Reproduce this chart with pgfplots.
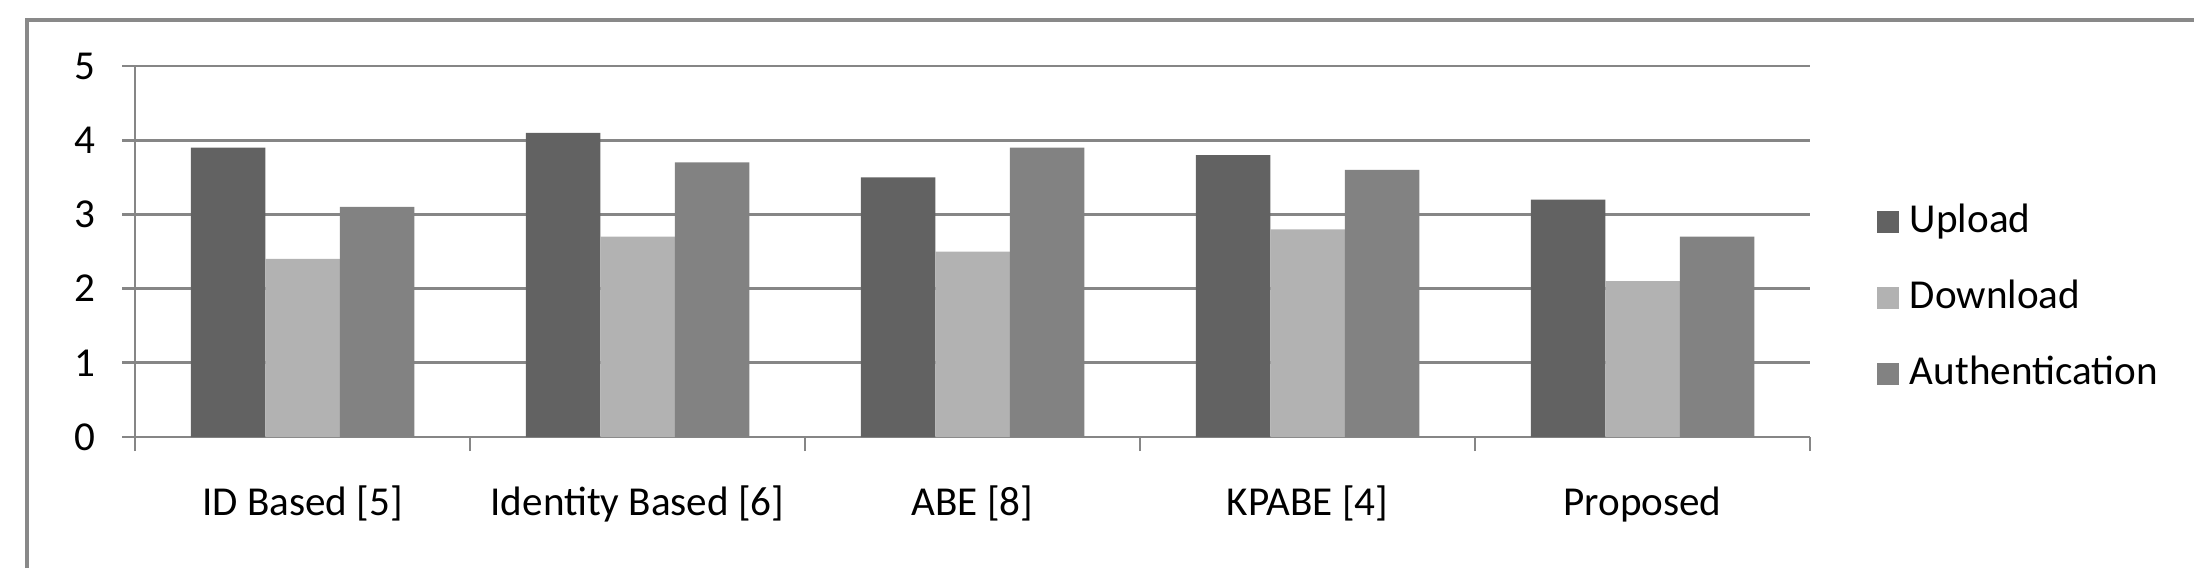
\documentclass[border=0pt]{standalone}
\usepackage{fontspec}
\setmainfont{Carlito}
\usepackage{pgfplots}
\pgfplotsset{compat=1.18}

\definecolor{uploadColor}{RGB}{98,98,98}
\definecolor{downloadColor}{RGB}{178,178,178}
\definecolor{authColor}{RGB}{130,130,130}
\definecolor{gridColor}{RGB}{134,134,134}
\definecolor{frameColor}{RGB}{137,137,137}

\begin{document}
\begin{tikzpicture}
\useasboundingbox (0,0) rectangle (21.94cm,5.68cm);
% chart frame (only left and top edges fall inside the crop)
\draw[frameColor, line width=0.9pt] (0.27cm,0) -- (0.27cm,5.48cm) -- (21.94cm,5.48cm);

\begin{axis}[
    at={(1.35cm,1.31cm)}, anchor=south west,
    scale only axis, width=16.75cm, height=3.71cm,
    font=\fontsize{11.7}{14}\selectfont,
    /pgf/number format/assume math mode=true,
    ybar=0pt, bar width=0.745cm,
    xmin=-0.5, xmax=4.5, ymin=0, ymax=5,
    xtick={0,...,4},
    xticklabels={ID Based [5], Identity Based [6], ABE [8], KPABE [4], Proposed},
    minor xtick={-0.5,0.5,...,4.5},
    ytick={0,...,5},
    axis lines*=left,
    axis line style={gridColor, line width=0.77pt},
    ymajorgrids, grid style={gridColor, line width=0.77pt},
    tick align=outside,
    major tick length=0.13cm, minor tick length=0.14cm,
    tick style={gridColor, line width=0.77pt},
    major x tick style={draw=none},
    yticklabel style={anchor=east, xshift=-0.14cm},
    xticklabel style={anchor=base, yshift=-0.65cm},
    legend style={at={(1.040,0.375)}, anchor=west, draw=none, fill=none,
        inner sep=0pt, outer sep=0pt,
        row sep=0.372cm, column sep=0.11cm,
        nodes={inner sep=0pt, text height=8.5pt, text depth=2.5pt}},
    legend cell align=left,
    legend image code/.code={\fill (0cm,-0.11cm) rectangle (0.22cm,0.11cm);},
]
\addplot[fill=uploadColor, draw=none] coordinates {(0,3.9) (1,4.1) (2,3.5) (3,3.8) (4,3.2)};
\addlegendentry{Upload}
\addplot[fill=downloadColor, draw=none] coordinates {(0,2.4) (1,2.7) (2,2.5) (3,2.8) (4,2.1)};
\addlegendentry{Download}
\addplot[fill=authColor, draw=none] coordinates {(0,3.1) (1,3.7) (2,3.9) (3,3.6) (4,2.7)};
\addlegendentry{Authentication}
\end{axis}
\end{tikzpicture}
\end{document}
